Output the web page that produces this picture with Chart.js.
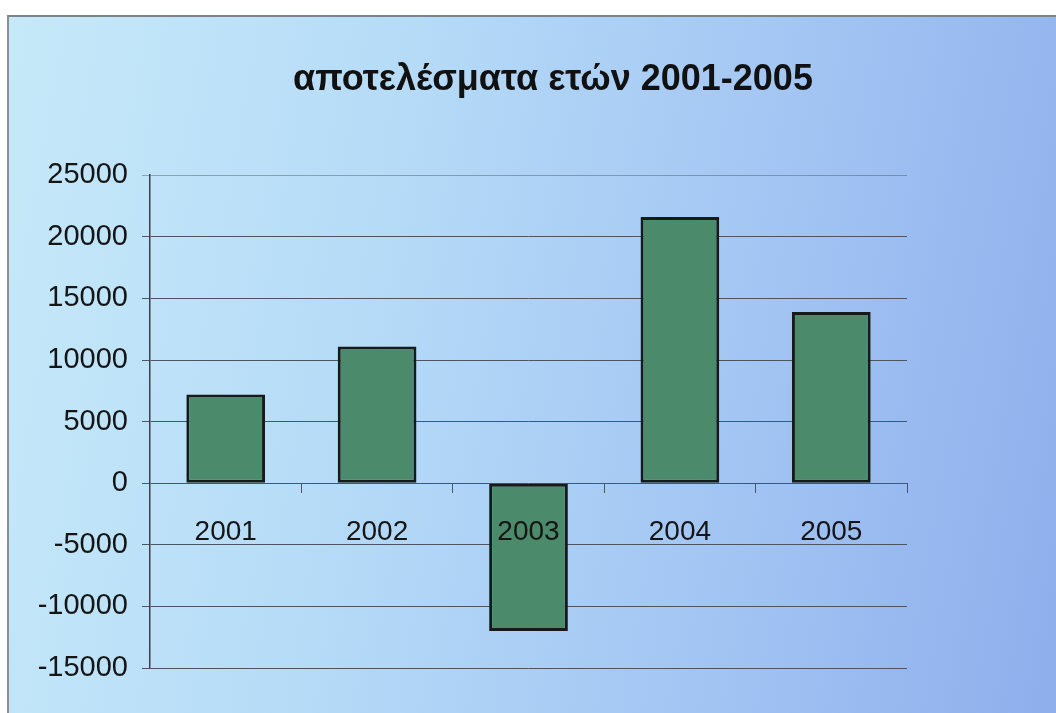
<!DOCTYPE html>
<html>
<head>
<meta charset="utf-8">
<script src="https://cdn.jsdelivr.net/npm/chart.js@4.4.1/dist/chart.umd.min.js"></script>
<style>
    html, body { margin: 0; padding: 0; background: #ffffff; overflow: hidden; }
    #frame {
        position: absolute; left: 7px; top: 15px; width: 1049px; height: 698px;
        border-left: 2px solid #8a8f96; border-top: 2px solid #7d838a;
        background: linear-gradient(100deg, #c6e9f9 0%, #b6dbf7 35%, #a2c4f3 70%, #8eaeec 100%);
    }
    #chartCanvas { position: absolute; left: 0; top: 0; }
</style>
</head>
<body>
<div id="frame"></div>
<!-- canvas is wider than the window so the title centre sits where the original has it -->
<canvas id="chartCanvas" width="1106" height="713"></canvas>
<script>
// chart data
const years = ['2001', '2002', '2003', '2004', '2005'];
const results = [7200, 11100, -12000, 21600, 13900];
const yMin = -15000;
const yMax = 25000;
const yStep = 5000;

const ctx = document.getElementById('chartCanvas').getContext('2d');
const chart = new Chart(ctx, {
    type: 'bar',
    data: {
        labels: years,
        datasets: [{
            label: 'αποτελέσματα',
            data: results,
            backgroundColor: '#4b8b6b',
            borderColor: '#161a18',
            borderWidth: 3,
            borderSkipped: false,
            barPercentage: 0.52,
            categoryPercentage: 1
        }]
    },
    options: {
        responsive: false,
        animation: false,
        layout: { padding: { left: 0, right: 0, top: 0, bottom: 45 } },
        plugins: {
            legend: { display: false },
            tooltip: { enabled: false },
            title: {
                display: true,
                text: 'αποτελέσματα ετών 2001-2005',
                color: '#111111',
                font: { family: 'Liberation Sans', size: 36, weight: 'bold' },
                padding: { top: 58, bottom: 74 }
            }
        },
        scales: {
            x: {
                position: { y: 0 },
                afterFit: scale => { scale.height = 0; },
                border: { display: false },
                grid: {
                    offset: true,
                    drawOnChartArea: false,
                    drawTicks: true,
                    tickLength: 10,
                    color: '#4d5560'
                },
                ticks: {
                    z: 1,
                    color: '#151515',
                    padding: 22,
                    font: { family: 'Liberation Sans', size: 28 }
                }
            },
            y: {
                min: yMin,
                max: yMax,
                afterFit: scale => { scale.width = 150; },
                border: { display: true, color: '#3a4048', width: 1.5 },
                grid: {
                    color: c => c.tick && c.tick.value === yMax ? 'rgba(70,85,105,0.45)' : '#4d5560',
                    lineWidth: 1,
                    tickLength: 8
                },
                ticks: {
                    stepSize: yStep,
                    color: '#151515',
                    padding: 14,
                    font: { family: 'Liberation Sans', size: 29 },
                    callback: value => String(value)
                }
            },
            yRight: {
                position: 'right',
                display: true,
                afterFit: scale => { scale.width = 199; },
                border: { display: false },
                grid: { drawOnChartArea: false, drawTicks: false },
                ticks: { display: false }
            }
        }
    }
});
</script>
</body>
</html>
